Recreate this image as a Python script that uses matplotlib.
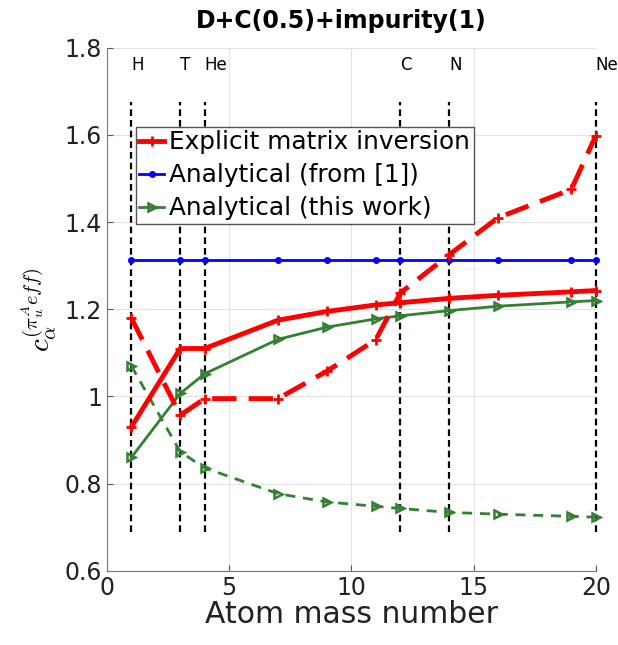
import matplotlib
matplotlib.use("Agg")
import matplotlib.pyplot as plt
import numpy as np

plt.rcParams["mathtext.fontset"] = "cm"

# atom mass numbers sampled
mass = [1, 3, 4, 7, 9, 11, 12, 14, 16, 19, 20]

# explicit matrix inversion (solid / dashed branch)
explicit_solid = [0.93, 1.11, 1.11, 1.175, 1.195, 1.21, 1.215, 1.225, 1.232, 1.240, 1.243]
explicit_dash = [1.18, 0.957, 0.995, 0.995, 1.058, 1.13, 1.237, 1.325, 1.41, 1.475, 1.598]

# analytical from [1]
analytic_ref = [1.312] * len(mass)

# analytical, this work (solid / dashed branch)
this_solid = [0.86, 1.007, 1.052, 1.131, 1.159, 1.178, 1.185, 1.197, 1.207, 1.217, 1.220]
this_dash = [1.07, 0.873, 0.836, 0.777, 0.758, 0.748, 0.743, 0.734, 0.730, 0.725, 0.723]

# species marker lines
species = ["H", "T", "He", "C", "N", "Ne"]
species_mass = [1, 3, 4, 12, 14, 20]

green = "#338033"

fig = plt.figure(figsize=(6.18, 6.45), dpi=100)
ax = fig.add_axes([0.173, 0.115, 0.791, 0.811])

for m, s in zip(species_mass, species):
    ax.plot([m, m], [0.69, 1.675], color="black", linestyle=(0, (3, 1.8)), linewidth=1.6,
            zorder=2, clip_on=False)
    ax.text(m, 1.76, s, fontsize=12, ha="left", va="center", clip_on=False)

ax.plot(mass, explicit_solid, color="red", linewidth=3.5, marker="+", markersize=7,
        markeredgewidth=2, label="Explicit matrix inversion", zorder=4, clip_on=False)
ax.plot(mass, explicit_dash, color="red", linewidth=3.5, linestyle=(0, (5, 2.5)), marker="+",
        markersize=7, markeredgewidth=2, zorder=4, clip_on=False)
ax.plot(mass, analytic_ref, color="blue", linewidth=2, marker="o", markersize=4,
        label="Analytical (from [1])", zorder=3, clip_on=False)
ax.plot(mass, this_solid, color=green, linewidth=2, marker=">", markersize=5.5,
        markerfacecolor="none", markeredgewidth=1.8, label="Analytical (this work)", zorder=3,
        clip_on=False)
ax.plot(mass, this_dash, color=green, linewidth=2, linestyle=(0, (3.6, 2.8)), marker=">",
        markersize=5.5, markerfacecolor="none", markeredgewidth=1.8, zorder=3, clip_on=False)

ax.set_xlim(0, 20)
ax.set_ylim(0.6, 1.8)
ax.set_xticks([0, 5, 10, 15, 20])
ax.set_yticks([0.6, 0.8, 1.0, 1.2, 1.4, 1.6, 1.8])
ax.set_yticklabels(["0.6", "0.8", "1", "1.2", "1.4", "1.6", "1.8"])
ax.tick_params(direction="in", labelsize=17, length=4, color="#555555", labelcolor="#222222")
ax.grid(True, color="#e3e3e3", linewidth=0.8)
ax.set_axisbelow(True)
for side in ("top", "right"):
    ax.spines[side].set_visible(False)
for side in ("left", "bottom"):
    ax.spines[side].set_color("#777777")

ax.set_xlabel("Atom mass number", fontsize=21.5, color="#222222", labelpad=0)
ax.set_ylabel(r"$c_\alpha^{(\pi_u^A eff)}$", fontsize=21, labelpad=4)
ax.set_title("D+C(0.5)+impurity(1)", fontsize=17, fontweight="bold", pad=14, x=0.48)

leg = ax.legend(loc="upper left", bbox_to_anchor=(0.059, 0.849), fontsize=17.8, handlelength=1.0,
                handletextpad=0.2, borderpad=0.15, labelspacing=0.36, borderaxespad=0,
                fancybox=False, framealpha=1, edgecolor="#555555")
leg.get_frame().set_linewidth(1)
leg.set_zorder(5)

fig.savefig("out.png", dpi=100)
